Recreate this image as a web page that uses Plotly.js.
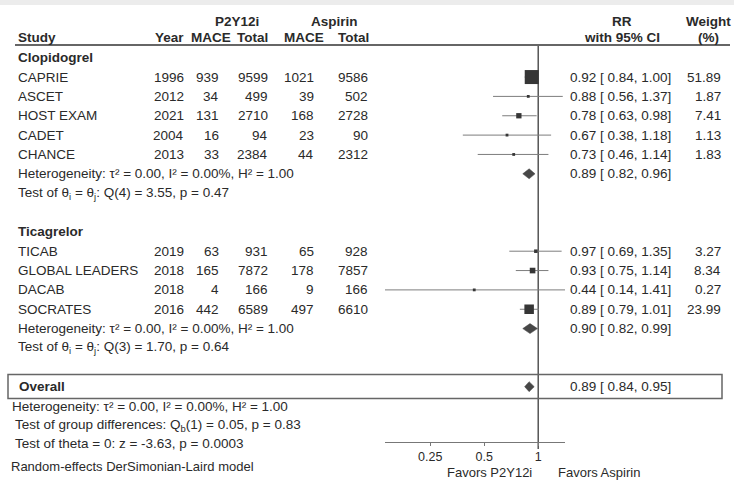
<!DOCTYPE html>
<html><head><meta charset="utf-8">
<script src="https://cdn.plot.ly/plotly-3.0.1.min.js"></script>
<style>html,body{margin:0;padding:0;background:#fff;}#chart{width:734px;height:481px;}</style>
</head><body><div id="chart"></div>
<script>
// ---------- data ----------
const groupNames = ['Clopidogrel', 'Ticagrelor'];
const studyNames = ['CAPRIE','ASCET','HOST EXAM','CADET','CHANCE','TICAB','GLOBAL LEADERS','DACAB','SOCRATES'];
const studyGroup = [0,0,0,0,0,1,1,1,1];
const years   = [1996, 2012, 2021, 2004, 2013, 2019, 2018, 2018, 2016];
const maceP   = [939, 34, 131, 16, 33, 63, 165, 4, 442];
const totalP  = [9599, 499, 2710, 94, 2384, 931, 7872, 166, 6589];
const maceA   = [1021, 39, 168, 23, 44, 65, 178, 9, 497];
const totalA  = [9586, 502, 2728, 90, 2312, 928, 7857, 166, 6610];
const rr      = [0.92, 0.88, 0.78, 0.67, 0.73, 0.97, 0.93, 0.44, 0.89];
const rrLo    = [0.84, 0.56, 0.63, 0.38, 0.46, 0.69, 0.75, 0.14, 0.79];
const rrHi    = [1.00, 1.37, 0.98, 1.18, 1.14, 1.35, 1.14, 1.41, 1.01];
const weights = [51.89, 1.87, 7.41, 1.13, 1.83, 3.27, 8.34, 0.27, 23.99];

const subRR = [0.89, 0.90], subLo = [0.82, 0.82], subHi = [0.96, 0.99];
const subTau2 = ['0.00','0.00'], subI2 = ['0.00','0.00'], subH2 = ['1.00','1.00'];
const subQdf = [4, 3], subQ = ['3.55','1.70'], subP = ['0.47','0.64'];

const overallRR = 0.89, overallLo = 0.84, overallHi = 0.95;
const overallTau2 = '0.00', overallI2 = '0.00', overallH2 = '1.00';
const groupDiffDf = 1, groupDiffQ = '0.05', groupDiffP = '0.83';
const thetaZ = '-3.63', thetaP = '0.0003';

const tickVals = [0.25, 0.5, 1];
const tickLabels = ['0.25', '0.5', '1'];

// ---------- layout helpers ----------
const W = 734, H = 481;
const ROW0 = 38.35, ROWH = 19.35;           // pixel y of row 0 and row height
const pxToRow = p => (p - ROW0) / ROWH;
const px = x => x / W;
const py = y => 1 - y / H;
const f2 = v => v.toFixed(2);

const TXT = '#2a2a2a';
const FS = 13.5;
const annotations = [];
function txt(text, x, row, anchor, size) {
  annotations.push({
    text: text, xref: 'paper', x: px(x), yref: 'y', y: row,
    xanchor: anchor, yanchor: 'middle', showarrow: false,
    font: {size: size || FS, color: TXT}
  });
}
const ciText = (e, l, h) => `${f2(e)} [ ${f2(l)}, ${f2(h)}]`;
const hetText = (t, i, h) => `Heterogeneity: τ² = ${t}, I² = ${i}%, H² = ${h}`;

// columns
const cStudy = 16, cYear = 186, cMaceP = 221, cTotP = 270, cMaceA = 316, cTotA = 370;
const cCI = 568, cW = 723;

// headers
const hTop = -0.86, hBot = -0.06;
txt('<b>P2Y12i</b>', 237, hTop, 'center');
txt('<b>Aspirin</b>', 334, hTop, 'center');
txt('<b>RR</b>', 622, hTop, 'center');
txt('<b>Weight</b>', 708, hTop, 'center');
txt('<b>Study</b>', cStudy, hBot, 'left');
txt('<b>Year</b>', cYear, hBot, 'right');
txt('<b>MACE</b>', 233, hBot, 'right');
txt('<b>Total</b>', cTotP, hBot, 'right');
txt('<b>MACE</b>', 326, hBot, 'right');
txt('<b>Total</b>', cTotA + 1, hBot, 'right');
txt('<b>with 95% CI</b>', 622, hBot, 'center');
txt('<b>(%)</b>', 708, hBot, 'center');

// build rows
const ciX = [], ciY = [], sqX = [], sqY = [], sqS = [];
const diamonds = [];
const DH = 5 / ROWH;
let row = 1;
groupNames.forEach((g, gi) => {
  txt('<b>' + g + '</b>', cStudy, row, 'left');
  row++;
  studyNames.forEach((s, i) => {
    if (studyGroup[i] !== gi) return;
    txt(s, cStudy, row, 'left');
    txt(String(years[i]), cYear, row, 'right');
    txt(String(maceP[i]), cMaceP, row, 'right');
    txt(String(totalP[i]), cTotP, row, 'right');
    txt(String(maceA[i]), cMaceA, row, 'right');
    txt(String(totalA[i]), cTotA, row, 'right');
    txt(ciText(rr[i], rrLo[i], rrHi[i]), cCI, row, 'left');
    txt(weights[i].toFixed(2), cW, row, 'right');
    ciX.push(rrLo[i], rrHi[i], null); ciY.push(row, row, null);
    sqX.push(rr[i]); sqY.push(row);
    sqS.push(Math.max(2.8, 14 * Math.sqrt(weights[i] / weights[0])));
    row++;
  });
  txt(hetText(subTau2[gi], subI2[gi], subH2[gi]), cStudy, row, 'left');
  txt(ciText(subRR[gi], subLo[gi], subHi[gi]), cCI, row, 'left');
  diamonds.push([subLo[gi], subRR[gi], subHi[gi], row]);
  row++;
  txt(`Test of θ<sub>i</sub> = θ<sub>j</sub>: Q(${subQdf[gi]}) = ${subQ[gi]}, p = ${subP[gi]}`, cStudy, row, 'left');
  row += 2;
});
const overallRow = row;
txt('<b>Overall</b>', cStudy + 1, overallRow, 'left');
txt(ciText(overallRR, overallLo, overallHi), cCI, overallRow, 'left');
diamonds.push([overallLo, overallRR, overallHi, overallRow]);
txt(hetText(overallTau2, overallI2, overallH2), 10, overallRow + 1, 'left');
txt(`Test of group differences: Q<sub>b</sub>(${groupDiffDf}) = ${groupDiffQ}, p = ${groupDiffP}`, 13, overallRow + 2, 'left');
txt(`Test of theta = 0: z = ${thetaZ}, p = ${thetaP}`, 13, overallRow + 2.95, 'left');
txt('Random-effects DerSimonian-Laird model', 9, pxToRow(466), 'left', 13);
txt('Favors P2Y12i', 534, pxToRow(472), 'right', 13);
txt('Favors Aspirin', 556, pxToRow(472), 'left', 13);

// ---------- traces ----------
const traces = [];
traces.push({x: [1, 1], y: [pxToRow(46), pxToRow(449)], mode: 'lines',
  line: {color: '#555', width: 1.5}, hoverinfo: 'skip', cliponaxis: false});
traces.push({x: ciX, y: ciY, mode: 'lines', line: {color: '#7d7d7d', width: 1},
  hoverinfo: 'skip', cliponaxis: false});
diamonds.forEach(d => {
  traces.push({x: [d[0], d[1], d[2], d[1], d[0]], y: [d[3], d[3] - DH, d[3], d[3] + DH, d[3]],
    mode: 'lines', fill: 'toself', fillcolor: '#474747', line: {color: '#474747', width: 0.5},
    hoverinfo: 'skip', cliponaxis: false});
});
traces.push({x: sqX, y: sqY, mode: 'markers', cliponaxis: false,
  marker: {symbol: 'square', size: sqS, color: '#363636', opacity: 1, line: {width: 0}}});

const layout = {
  width: W, height: H, margin: {l: 0, r: 0, t: 0, b: 0},
  paper_bgcolor: '#fff', plot_bgcolor: 'rgba(0,0,0,0)', showlegend: false,
  font: {family: 'Liberation Sans, Arial, Helvetica, sans-serif', size: FS, color: TXT},
  xaxis: {type: 'log', range: [Math.log10(0.14), Math.log10(1.41)],
    domain: [px(385), px(565)], anchor: 'free', position: py(441.7),
    showline: true, linecolor: '#777', linewidth: 1, ticks: 'outside', ticklen: 3,
    tickcolor: '#777', tickvals: tickVals, ticktext: tickLabels,
    tickfont: {size: 12.5, color: TXT}, showgrid: false, zeroline: false, fixedrange: true},
  yaxis: {range: [pxToRow(H), pxToRow(0)], domain: [0, 1], visible: false, fixedrange: true},
  annotations: annotations,
  shapes: [
    {type: 'rect', xref: 'paper', yref: 'paper', x0: 0, x1: 1, y0: py(5), y1: 1,
      fillcolor: '#ececec', line: {width: 0}, layer: 'below'},
    {type: 'line', xref: 'paper', yref: 'paper', x0: px(15), x1: px(730), y0: py(45), y1: py(45),
      line: {color: '#666', width: 2}},
    {type: 'rect', xref: 'paper', yref: 'paper', x0: px(8), x1: px(722), y0: py(398.5), y1: py(374.5),
      line: {color: '#666', width: 1.5}}
  ]
};
Plotly.newPlot('chart', traces, layout, {displayModeBar: false, staticPlot: true});
</script></body></html>
